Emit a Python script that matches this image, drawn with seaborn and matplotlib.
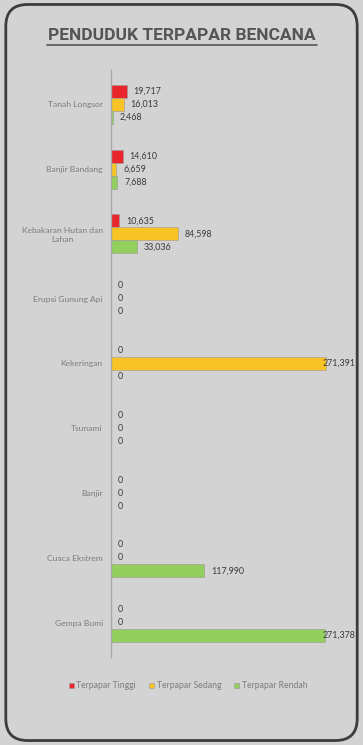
import pandas as pd
import matplotlib.pyplot as plt
import seaborn as sns
from matplotlib.patches import FancyBboxPatch
from matplotlib.lines import Line2D

# Data
kategori = ["Tanah Longsor", "Banjir Bandang", "Kebakaran Hutan dan\nLahan",
            "Erupsi Gunung Api", "Kekeringan", "Tsunami", "Banjir",
            "Cuaca Ekstrem", "Gempa Bumi"]
tinggi = [19717, 14610, 10635, 0, 0, 0, 0, 0, 0]
sedang = [16013, 6659, 84598, 0, 271391, 0, 0, 0, 0]
rendah = [2468, 7688, 33036, 0, 0, 0, 0, 117990, 271378]
seri = ["Terpapar Tinggi", "Terpapar Sedang", "Terpapar Rendah"]
warna = ["#e8262b", "#f7c325", "#92cf5c"]

df = pd.DataFrame({
    "kategori": kategori * 3,
    "nilai": tinggi + sedang + rendah,
    "tingkat": [s for s in seri for _ in kategori],
})

sns.set_style("white")
plt.rcParams['font.family'] = ['Lato', 'DejaVu Sans']

fig = plt.figure(figsize=(3.63, 7.45), dpi=100)
fig.patch.set_facecolor("#d3d3d4")

# rounded panel border (behind the axes)
box = FancyBboxPatch((0.016, 0.006), 0.968, 0.988, transform=fig.transFigure,
                     boxstyle="round,pad=0,rounding_size=0.06",
                     facecolor="#d3d3d4", edgecolor="#3c3c3c", linewidth=2.0,
                     mutation_aspect=363 / 745, zorder=-5)
fig.add_artist(box)

ax = fig.add_axes([111 / 363, 1 - 657 / 745, 230 / 363, (657 - 70) / 745])
ax.set_facecolor("none")
ax.set_zorder(2)

sns.barplot(data=df, y="kategori", x="nilai", hue="tingkat", palette=warna,
            orient="h", width=0.6, edgecolor="#9a9a9a", linewidth=0.4,
            saturation=1, ax=ax, legend=True)

# value labels (long bars get their label tucked against the bar end)
for cont in ax.containers:
    for bar, v in zip(cont, cont.datavalues):
        pad = -2 if v > 250000 else 5
        ax.annotate(f"{v:,.0f}", (bar.get_width(), bar.get_y() + bar.get_height() / 2),
                    xytext=(pad, 0), textcoords="offset points", va="center", ha="left",
                    fontsize=6.4, color="#3a3a3a")

ax.set_xlim(0, 291000)
ax.set_ylim(8.53, -0.53)
ax.set_xlabel("")
ax.set_ylabel("")
ax.set_xticks([])
ax.tick_params(axis="y", length=0, pad=6, labelsize=6.1, labelcolor="#7c7c7c")
for t in ax.get_yticklabels():
    t.set_multialignment("center")
for s in ["top", "right", "bottom"]:
    ax.spines[s].set_visible(False)
ax.spines["left"].set_color("#a8a8a8")
ax.spines["left"].set_linewidth(1.0)

handles, labels = ax.get_legend_handles_labels()
ax.get_legend().remove()
fig.legend(handles, labels, loc="center", bbox_to_anchor=(188 / 363, 1 - 686 / 745),
           ncol=3, frameon=False, fontsize=6.2, labelcolor="#7c7c7c",
           handlelength=0.6, handleheight=0.6, handletextpad=0.3, columnspacing=1.5)

# title with underline
fig.text(0.5, 1 - 35 / 745, "PENDUDUK TERPAPAR BENCANA", ha="center", va="center",
         fontsize=12.5, fontweight="bold", color="#555555", family="Roboto")
fig.add_artist(Line2D([47 / 363, 317 / 363], [1 - 44.5 / 745, 1 - 44.5 / 745],
                      transform=fig.transFigure, color="#555555", linewidth=1.2))

plt.savefig("out.png", dpi=100, facecolor=fig.get_facecolor())
